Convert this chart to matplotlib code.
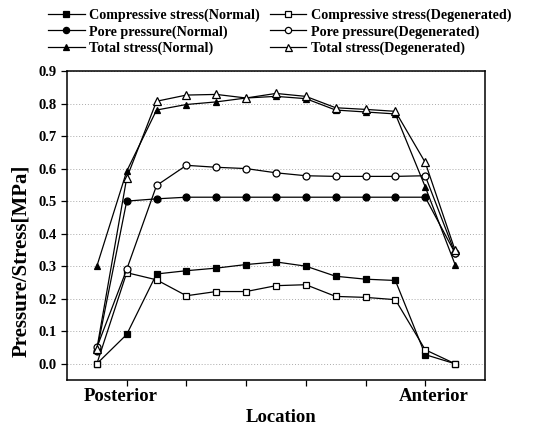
import numpy as np
from matplotlib import pyplot as plt

plt.rcParams['font.family'] = ['Liberation Serif', 'DejaVu Serif']
plt.rcParams['font.weight'] = 'bold'

# 13 sample locations from posterior to anterior
locations = np.arange(13)

comp_normal = [0.00, 0.09, 0.276, 0.286, 0.294, 0.305, 0.313, 0.300, 0.269, 0.260, 0.256, 0.028, 0.00]
comp_degen = [0.00, 0.28, 0.258, 0.209, 0.222, 0.222, 0.240, 0.243, 0.207, 0.204, 0.197, 0.043, 0.00]
pore_normal = [0.04, 0.50, 0.507, 0.512, 0.512, 0.512, 0.512, 0.512, 0.512, 0.512, 0.512, 0.512, 0.34]
pore_degen = [0.05, 0.29, 0.548, 0.610, 0.604, 0.600, 0.587, 0.578, 0.576, 0.576, 0.576, 0.578, 0.34]
total_normal = [0.30, 0.592, 0.780, 0.797, 0.805, 0.817, 0.822, 0.815, 0.780, 0.774, 0.768, 0.544, 0.305]
total_degen = [0.046, 0.571, 0.807, 0.826, 0.828, 0.817, 0.831, 0.822, 0.787, 0.782, 0.776, 0.619, 0.349]

region_labels = ['Posterior', 'Anterior']
region_pos = [0.8, 11.3]

fig = plt.figure(figsize=(5.47, 4.29), dpi=100)
ax = fig.add_axes([0.1225, 0.1142, 0.764, 0.7203])

style = dict(color='black', lw=0.9, mew=0.9)
h1, = ax.plot(locations, comp_normal, marker='s', ms=5, mfc='black', label='Compressive stress(Normal)', **style)
h2, = ax.plot(locations, comp_degen, marker='s', ms=5, mfc='white', label='Compressive stress(Degenerated)', **style)
h3, = ax.plot(locations, pore_normal, marker='o', ms=5, mfc='black', label='Pore pressure(Normal)', **style)
h4, = ax.plot(locations, pore_degen, marker='o', ms=5, mfc='white', label='Pore pressure(Degenerated)', **style)
h5, = ax.plot(locations, total_normal, marker='^', ms=5, mfc='black', label='Total stress(Normal)', **style)
h6, = ax.plot(locations, total_degen, marker='^', ms=5.6, mfc='white', label='Total stress(Degenerated)', **style)

ax.set_xlim(-1, 13)
ax.set_ylim(-0.05, 0.9)
ax.set_yticks(np.arange(0, 0.91, 0.1))
ax.set_yticklabels(['%.1f' % v for v in np.arange(0, 0.91, 0.1)], fontsize=10.5, fontweight='bold')
ax.set_xticks([1, 3, 5, 7, 9, 11])
ax.set_xticklabels([])
ax.tick_params(direction='out', length=4, width=0.9)
ax.yaxis.grid(True, color='#aaaaaa', linestyle=(0, (1, 2)), lw=0.7)
ax.set_axisbelow(True)
for s in ax.spines.values():
    s.set_linewidth(1.1)

for lab, xp in zip(region_labels, region_pos):
    ax.text(xp, -0.075, lab, ha='center', va='top', fontsize=13.5, fontweight='bold')

fig.text(0.514, 0.026, 'Location', ha='center', va='center', fontsize=13.5, fontweight='bold')
ax.set_ylabel('Pressure/Stress[MPa]', fontsize=15, fontweight='bold')
ax.yaxis.set_label_coords(-0.085, 0.385)

fig.legend(handles=[h1, h3, h5, h2, h4, h6], ncol=2, loc='upper left',
           bbox_to_anchor=(0.064, 1.01), frameon=False,
           prop={'weight': 'bold', 'size': 10.2}, handlelength=2.6, handletextpad=0.3,
           columnspacing=0.7, labelspacing=0.22, markerscale=0.9)

fig.savefig('out.png', dpi=100)
